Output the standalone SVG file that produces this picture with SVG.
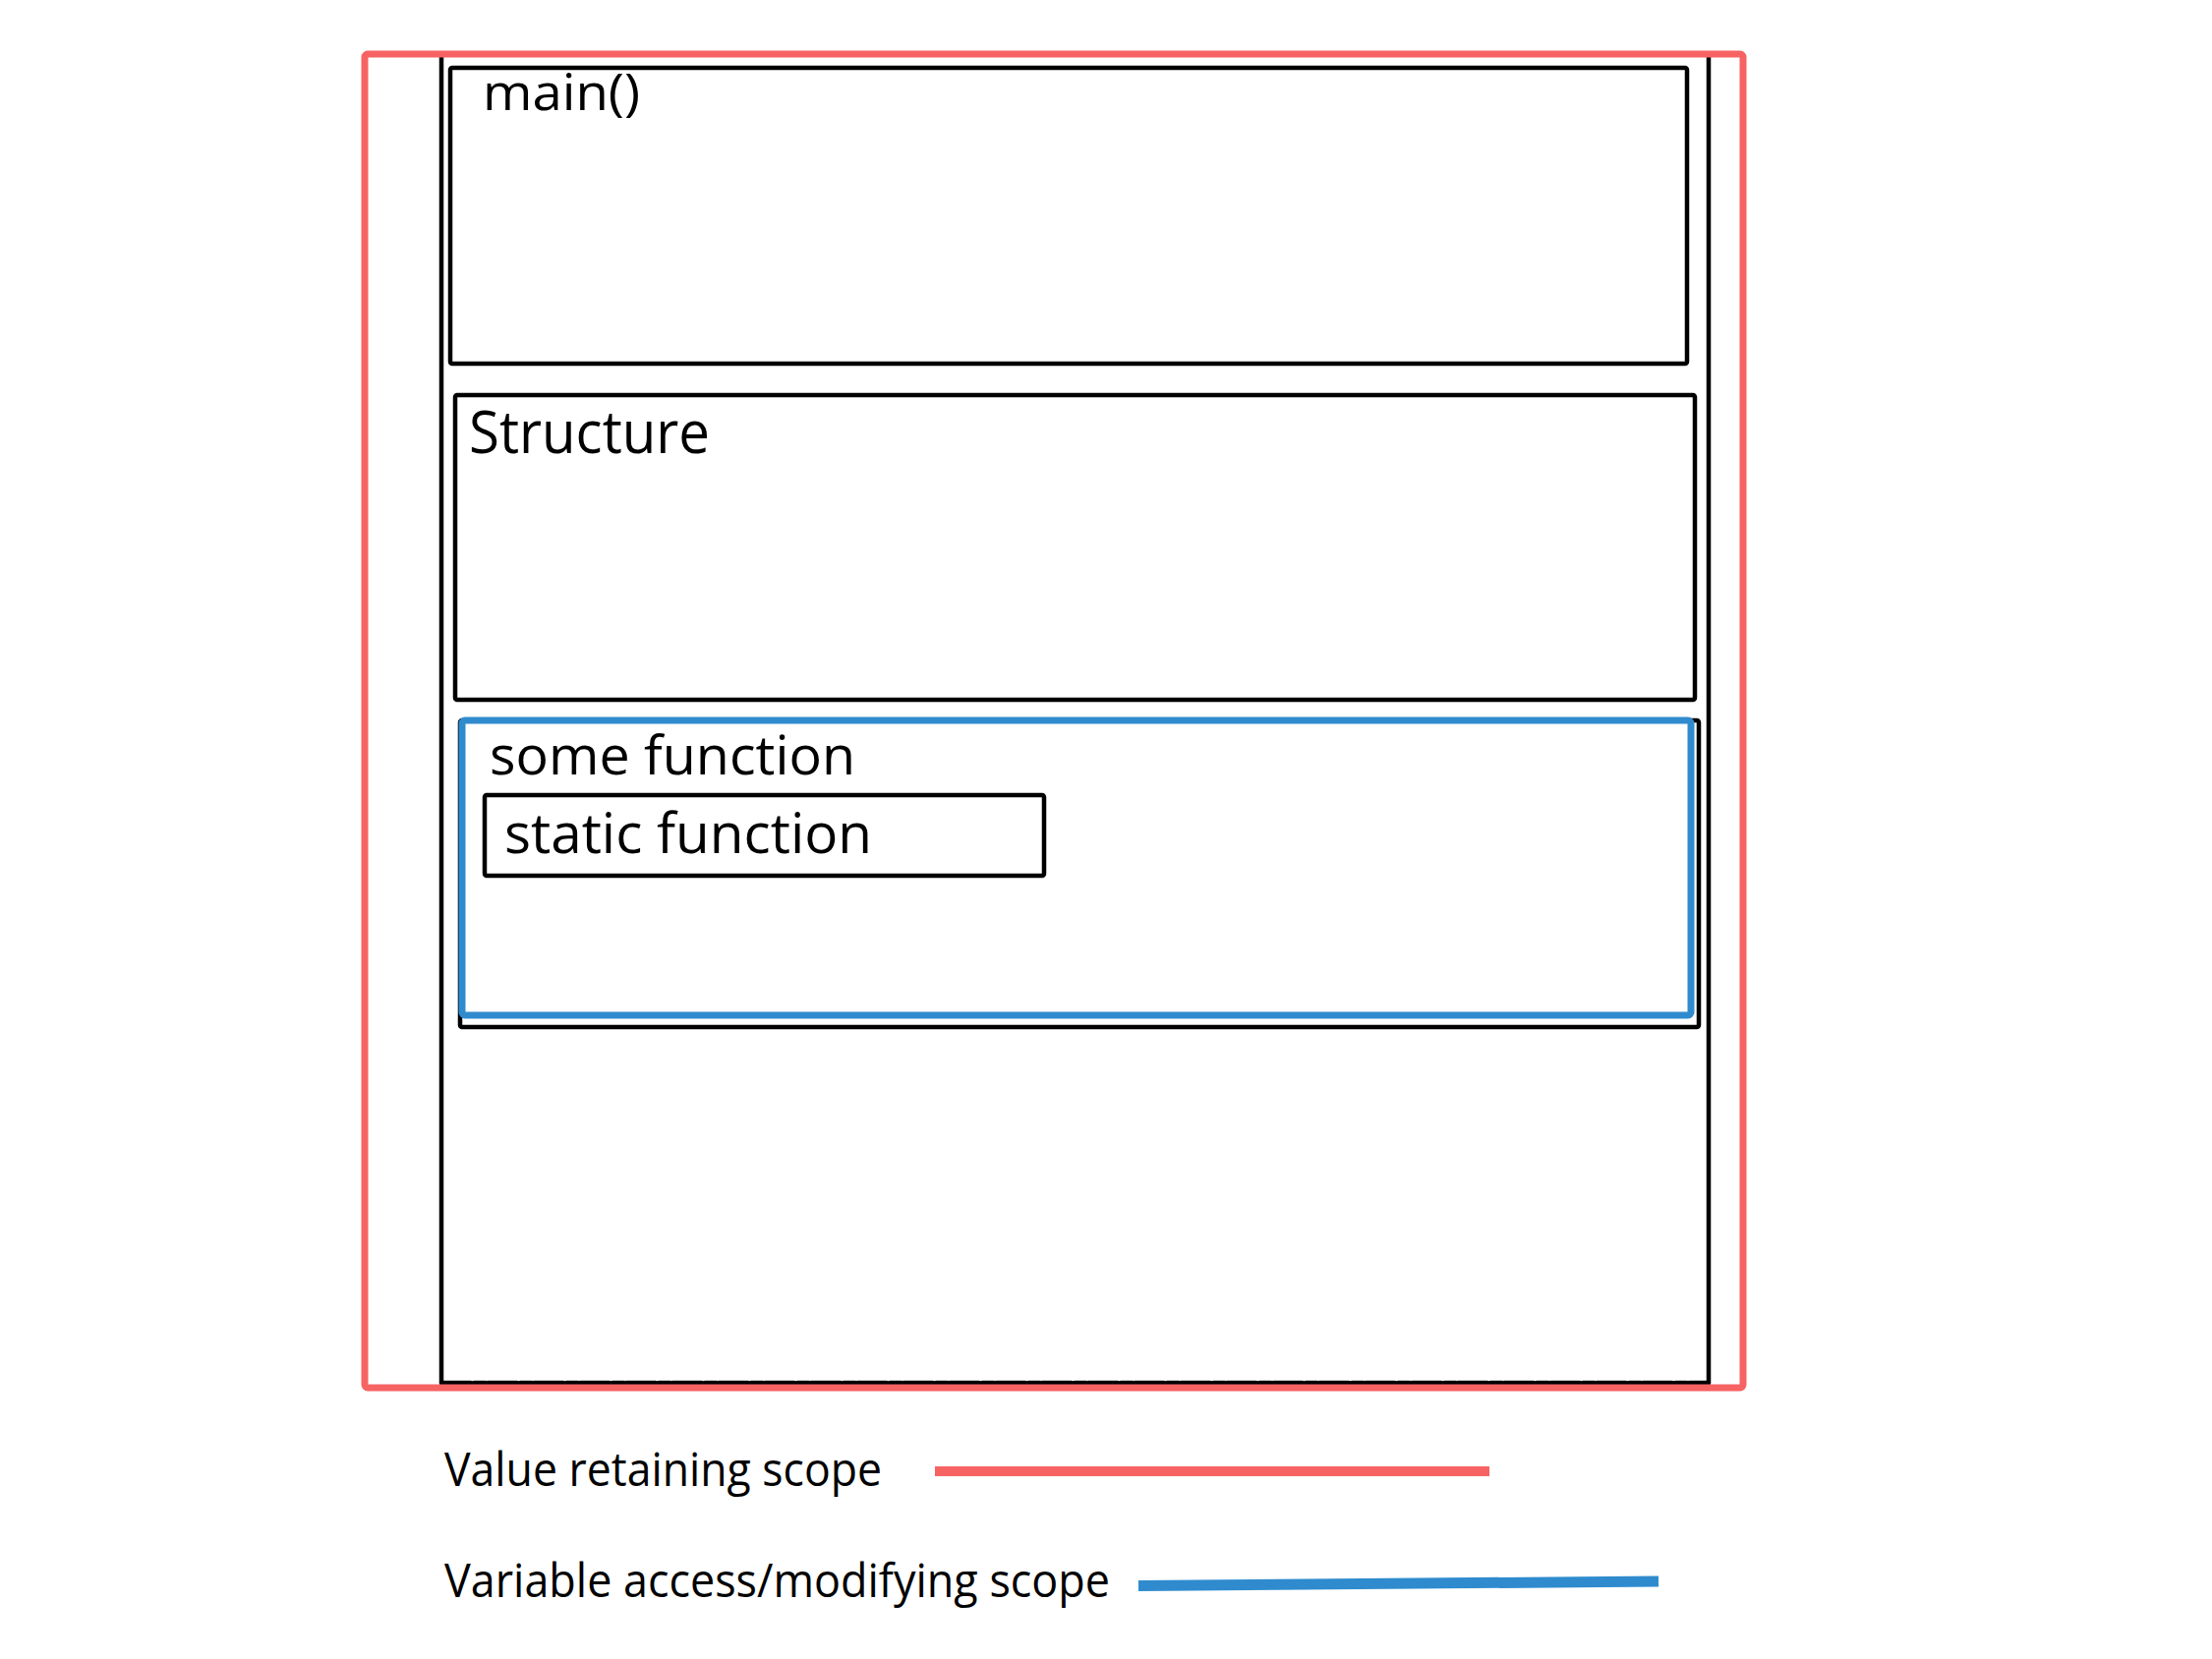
<svg xmlns="http://www.w3.org/2000/svg" width="2250" height="1688" viewBox="0 0 2250 1688">
  <style>
    .box { fill: none; stroke: #000; stroke-width: 4.5; stroke-linejoin: round; }
    .red { fill: none; stroke: #f76363; stroke-width: 7; stroke-linejoin: round; }
    .blue { fill: none; stroke: #2f8bce; stroke-width: 7; stroke-linejoin: round; }
    .rough { fill: none; stroke: #000; stroke-width: 4.5; stroke-linecap: round; }
    .lbl { font-family: "Open Sans", "Noto Sans", "Liberation Sans", sans-serif; fill: #000; }
  </style>
  <rect width="2250" height="1688" fill="#fff"/>

  <g id="outer-scope">
    <path class="rough" d="M449 58 L449 1407"/>
    <path class="rough" d="M1738 58 L1738 1407"/>
    <path class="rough" d="M449 1407 L1738 1407" stroke-dasharray="30 3 12 2"/>
  </g>

  <g id="main-node">
    <rect class="box" x="458" y="69" width="1258" height="301" rx="2"/>
    <text class="lbl" x="491" y="112" font-size="52" textLength="160" lengthAdjust="spacingAndGlyphs">main()</text>
  </g>

  <g id="structure-node">
    <rect class="box" x="463" y="402" width="1261" height="310" rx="2"/>
    <text class="lbl" x="477" y="461" font-size="60" textLength="245" lengthAdjust="spacingAndGlyphs" font-weight="500">Structure</text>
  </g>

  <g id="some-function-node">
    <rect class="box" x="468" y="733" width="1260" height="312" rx="2"/>
    <rect class="blue" x="470" y="733" width="1250" height="300" rx="3"/>
    <text class="lbl" x="498" y="788" font-size="54" textLength="372" lengthAdjust="spacingAndGlyphs" font-weight="500">some function</text>
  </g>

  <g id="static-function-node">
    <rect class="box" x="493" y="809" width="569" height="82" rx="2"/>
    <text class="lbl" x="513" y="868" font-size="56" textLength="374" lengthAdjust="spacingAndGlyphs" font-weight="500">static function</text>
  </g>

  <g id="value-retaining-scope">
    <rect class="red" x="371" y="55" width="1402" height="1357" rx="3"/>
  </g>

  <g id="connectors"></g>

  <g id="legend">
    <text class="lbl" x="452" y="1512" font-size="47" textLength="445" lengthAdjust="spacingAndGlyphs">Value retaining scope</text>
    <line x1="951" y1="1497" x2="1515" y2="1497" stroke="#f76363" stroke-width="10"/>
    <text class="lbl" x="452" y="1625" font-size="47" textLength="677" lengthAdjust="spacingAndGlyphs">Variable access/modifying scope</text>
    <line x1="1158" y1="1613.5" x2="1687" y2="1609" stroke="#2f8bce" stroke-width="11"/>
  </g>
</svg>
